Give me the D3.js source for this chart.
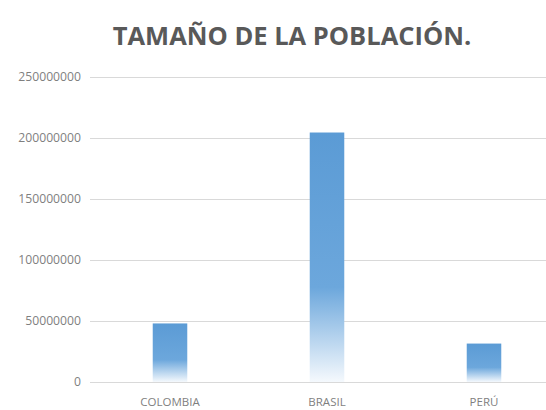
<!DOCTYPE html>
<html>
<head>
<meta charset="utf-8">
<script src="https://cdn.jsdelivr.net/npm/d3@7"></script>
<style>
  html, body { margin: 0; padding: 0; background: #fff; }
  svg { display: block; }
</style>
</head>
<body>
<svg id="chart" width="546" height="410"></svg>
<script>
// Population by country
const categories = ["COLOMBIA", "BRASIL", "PERÚ"];
const population = [48000000, 204500000, 31500000];
const tickValues = [0, 50000000, 100000000, 150000000, 200000000, 250000000];
const title = "TAMAÑO DE LA POBLACIÓN.";

const svg = d3.select("#chart");
const W = 546, H = 410;

const x = d3.scaleBand()
  .domain(categories)
  .range([91.5, 562.5])
  .paddingInner(0.78)
  .paddingOuter(0.39);

const y = d3.scaleLinear()
  .domain([0, 250000000])
  .range([382, 77]);

// Bar fill: solid blue at the top fading to white at the base
const defs = svg.append("defs");
const grad = defs.append("linearGradient")
  .attr("id", "barFill")
  .attr("x1", 0).attr("y1", 0).attr("x2", 0).attr("y2", 1);
grad.append("stop").attr("offset", "0%").attr("stop-color", "#5b9bd5");
grad.append("stop").attr("offset", "62%").attr("stop-color", "#6ca7dc");
grad.append("stop").attr("offset", "100%").attr("stop-color", "#f5f9fd");

// Title
svg.append("text")
  .attr("x", 292)
  .attr("y", 45)
  .attr("text-anchor", "middle")
  .attr("font-family", "'Open Sans', sans-serif")
  .attr("font-weight", 700)
  .attr("font-size", 25.5)
  .attr("fill", "#595959")
  .text(title);

// Gridlines + value axis
const yAxis = d3.axisLeft(y)
  .tickValues(tickValues)
  .tickFormat(d3.format("d"))
  .tickSize(-(W - 90))
  .tickPadding(9);

const gy = svg.append("g")
  .attr("transform", "translate(90,0)")
  .call(yAxis);
gy.select(".domain").remove();
gy.selectAll(".tick line")
  .attr("stroke", "#d9d9d9")
  .attr("stroke-width", 1);
gy.selectAll(".tick text")
  .attr("font-family", "'Open Sans', sans-serif")
  .attr("font-size", 12.2)
  .attr("fill", "#7f7f7f");

// Bars
svg.append("g")
  .selectAll("rect")
  .data(categories.map((c, i) => ({ c, v: population[i] })))
  .join("rect")
  .attr("x", d => x(d.c))
  .attr("y", d => y(d.v))
  .attr("width", x.bandwidth())
  .attr("height", d => y(0) - y(d.v))
  .attr("fill", "url(#barFill)");

// Category axis
const xAxis = d3.axisBottom(x).tickSize(0).tickPadding(16);
const gx = svg.append("g")
  .attr("transform", "translate(0,382)")
  .call(xAxis);
gx.select(".domain").remove();
gx.selectAll(".tick text")
  .attr("font-family", "'Open Sans', sans-serif")
  .attr("font-size", 11.5)
  .attr("fill", "#7f7f7f");
</script>
</body>
</html>
